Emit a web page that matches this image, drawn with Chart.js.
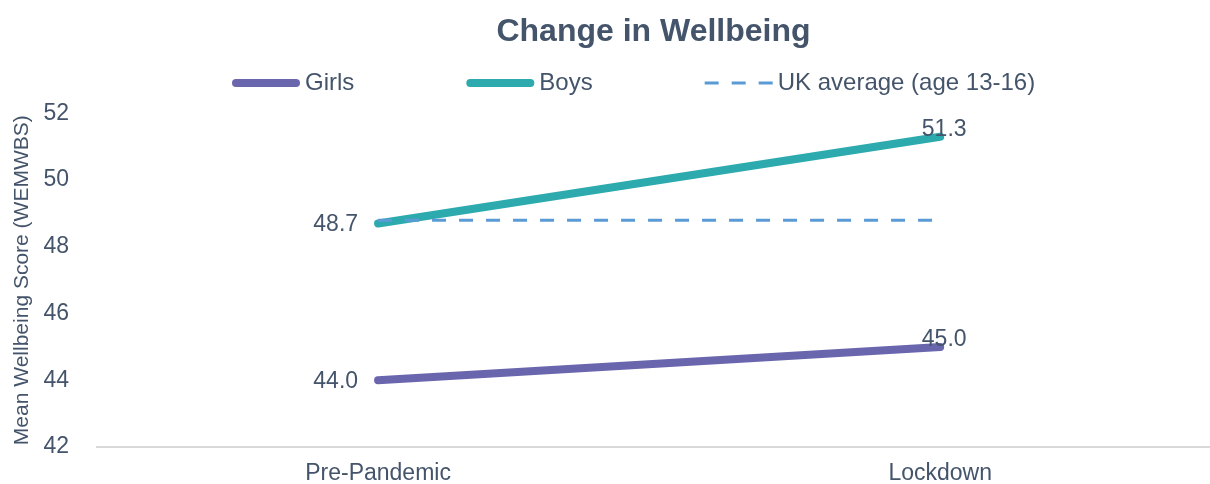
<!DOCTYPE html>
<html lang="en">
<head>
    <meta charset="UTF-8">
    <title>Change in Wellbeing</title>
    <script src="https://cdn.jsdelivr.net/npm/chart.js"></script>
    <style>
        body { margin: 0; background: #fff; }
        .wrap { width: 1210px; height: 484px; position: relative; }
    </style>
</head>
<body>
    <div class="wrap">
        <canvas id="wellbeing"></canvas>
    </div>
<script>
    // Valeurs
    const categories = ['Pre-Pandemic', 'Lockdown'];
    const girls = [44.0, 45.0];
    const boys = [48.7, 51.3];
    const ukAverage = [48.8, 48.8];
    const yTicks = [42, 44, 46, 48, 50, 52];

    const slate = '#44546A';
    const font = '"Liberation Sans", Arial, sans-serif';

    const toPoints = arr => arr.map((v, i) => ({ x: i, y: v }));

    // étiquettes de valeurs
    const valueLabels = {
        id: 'valueLabels',
        afterDatasetsDraw(chart) {
            const ctx = chart.ctx;
            chart.data.datasets.forEach((ds, di) => {
                if (!ds.labelPos) return;
                const meta = chart.getDatasetMeta(di);
                meta.data.forEach((pt, i) => {
                    const txt = ds.data[i].y.toFixed(1);
                    ctx.save();
                    ctx.font = '23px ' + font;
                    ctx.fillStyle = slate;
                    if (ds.labelPos[i] === 'left') {
                        ctx.textAlign = 'right';
                        ctx.textBaseline = 'middle';
                        ctx.fillText(txt, pt.x - 20, pt.y + 1);
                    } else {
                        ctx.textAlign = 'center';
                        ctx.textBaseline = 'alphabetic';
                        ctx.fillText(txt, pt.x + 4, pt.y - 1);
                    }
                    ctx.restore();
                });
            });
        }
    };

    // légende façon Excel (trait + texte)
    const lineLegend = {
        id: 'lineLegend',
        afterDraw(chart) {
            const ctx = chart.ctx;
            ctx.save();
            ctx.font = '24px ' + font;
            let x = 232;
            const y = 83;
            chart.data.datasets.forEach(ds => {
                const round = ds.borderCapStyle === 'round';
                const cap = round ? ds.borderWidth / 2 : 0;
                ctx.beginPath();
                ctx.lineWidth = ds.borderWidth;
                ctx.strokeStyle = ds.borderColor;
                ctx.lineCap = round ? 'round' : 'butt';
                ctx.setLineDash(ds.borderDash || []);
                ctx.moveTo(x + cap, y);
                ctx.lineTo(x + 68 - cap, y);
                ctx.stroke();
                ctx.setLineDash([]);
                ctx.fillStyle = slate;
                ctx.textAlign = 'left';
                ctx.textBaseline = 'middle';
                ctx.fillText(ds.label, x + 73, y);
                x += 73 + ctx.measureText(ds.label).width + 112;
            });
            ctx.restore();
        }
    };

    new Chart(document.getElementById('wellbeing'), {
        type: 'line',
        data: {
            datasets: [
                {
                    label: 'Girls',
                    data: toPoints(girls),
                    borderColor: '#6A66AE',
                    borderWidth: 8,
                    borderCapStyle: 'round',
                    pointRadius: 0,
                    order: 2,
                    labelPos: ['left', 'top']
                },
                {
                    label: 'Boys',
                    data: toPoints(boys),
                    borderColor: '#2DAAAE',
                    borderWidth: 8,
                    borderCapStyle: 'round',
                    pointRadius: 0,
                    order: 1,
                    labelPos: ['left', 'top']
                },
                {
                    label: 'UK average (age 13-16)',
                    data: toPoints(ukAverage),
                    borderColor: '#5B9BD5',
                    borderWidth: 3,
                    borderDash: [14, 13],
                    pointRadius: 0,
                    order: 0
                }
            ]
        },
        options: {
            responsive: true,
            maintainAspectRatio: false,
            animation: false,
            plugins: {
                title: {
                    display: true,
                    fullSize: false,
                    text: 'Change in Wellbeing',
                    color: slate,
                    font: { family: font, size: 32, weight: 'bold' },
                    padding: { top: 13, bottom: 62 }
                },
                legend: { display: false },
                tooltip: { enabled: false }
            },
            scales: {
                x: {
                    type: 'linear',
                    min: -0.5,
                    max: 1.48,
                    afterBuildTicks: s => { s.ticks = categories.map((c, i) => ({ value: i })); },
                    afterFit: s => { s.height = 37; },
                    grid: { display: false },
                    border: { color: '#D9D9D9', width: 2 },
                    ticks: {
                        color: slate,
                        font: { family: font, size: 23 },
                        padding: 5,
                        callback: v => categories[v]
                    }
                },
                y: {
                    min: 42,
                    max: 52,
                    afterBuildTicks: s => { s.ticks = yTicks.map(v => ({ value: v })); },
                    afterFit: s => { s.width = 97; },
                    grid: { display: false },
                    border: { display: false },
                    ticks: {
                        color: slate,
                        font: { family: font, size: 23 },
                        padding: 20
                    },
                    title: {
                        display: true,
                        text: 'Mean Wellbeing Score (WEMWBS)',
                        color: slate,
                        font: { family: font, size: 21 },
                        padding: { top: 10, bottom: 0 }
                    }
                }
            }
        },
        plugins: [valueLabels, lineLegend]
    });
</script>
</body>
</html>
